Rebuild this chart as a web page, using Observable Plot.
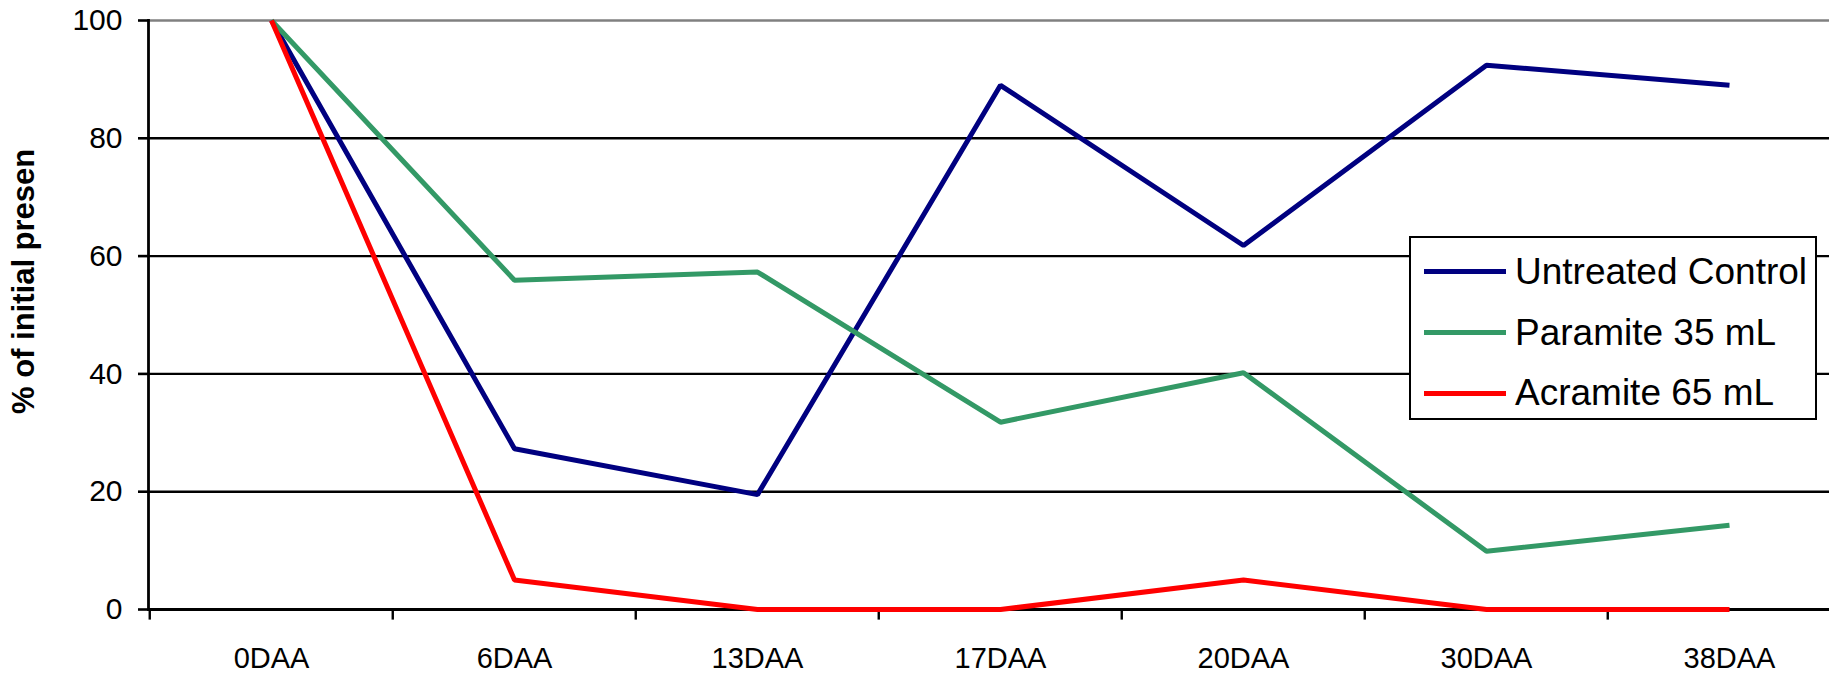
<!DOCTYPE html>
<html>
<head>
<meta charset="utf-8">
<script src="https://cdn.jsdelivr.net/npm/d3@7"></script>
<script src="https://cdn.jsdelivr.net/npm/@observablehq/plot@0.6"></script>
<style>
  html, body { margin: 0; padding: 0; background: white; overflow: hidden; }
  #wrap { position: relative; width: 1829px; height: 676px; font-family: Arial, "Liberation Sans", sans-serif; }
  #ytitle { position: absolute; left: 23px; top: 414px; transform-origin: 0 0; transform: rotate(-90deg) translateY(-50%);
            white-space: nowrap; font-size: 31px; font-weight: bold; line-height: 1; color: #000; }
  #legend { position: absolute; left: 1409px; top: 236px; width: 408px; height: 184px; box-sizing: border-box;
            border: 2px solid #000; background: #fff; }
  .row { position: absolute; left: 0; height: 0; }
  .sw { position: absolute; left: 13px; top: -2.5px; width: 82px; height: 5px; }
  .lt { position: absolute; left: 104px; top: -20px; line-height: 40px; font-size: 37px; white-space: nowrap; color: #000; }
</style>
</head>
<body>
<div id="wrap"></div>
<script>
const categories = ["0DAA", "6DAA", "13DAA", "17DAA", "20DAA", "30DAA", "38DAA"];
const untreatedControl = [100, 27.3, 19.5, 89.0, 61.8, 92.4, 89.0];
const paramite35 = [100, 55.9, 57.3, 31.8, 40.2, 9.9, 14.3];
const acramite65 = [100, 5.0, 0, 0, 5.0, 0, 0];
const seriesNames = ["Untreated Control", "Paramite 35 mL", "Acramite 65 mL"];
const seriesColors = ["#000080", "#339966", "#FF0000"];
const yTicks = [0, 20, 40, 60, 80, 100];
const yGrid = [20, 40, 60, 80];
const yTitle = "% of initial presen";

const seriesValues = [untreatedControl, paramite35, acramite65];
const data = categories.flatMap((c, i) =>
  seriesNames.map((s, k) => ({cat: c, value: seriesValues[k][i], series: s}))
);

const xRange = [148, 1852.5];
const step = (xRange[1] - xRange[0]) / categories.length;

const chart = Plot.plot({
  width: 1829,
  height: 676,
  marginLeft: 148,
  marginRight: 0,
  marginTop: 20,
  marginBottom: 67,
  style: {fontFamily: "Arial, 'Liberation Sans', sans-serif", background: "white", color: "black"},
  x: {type: "point", domain: categories, padding: 0.5, range: xRange},
  y: {domain: [0, 100]},
  color: {domain: seriesNames, range: seriesColors},
  marks: [
    Plot.ruleY(yGrid, {stroke: "black", strokeWidth: 2.4}),
    Plot.ruleY([100], {stroke: "#808080", strokeWidth: 2.6}),
    Plot.ruleX(categories, {x: d => d, y1: 0, y2: -1.8, dx: -step / 2, stroke: "black", strokeWidth: 2.4}),
    Plot.axisY({ticks: yTicks, tickSize: 10, tickPadding: 16, fontSize: 30, label: null, strokeWidth: 2.6, stroke: "black"}),
    Plot.axisX({tickSize: 0, tickPadding: 38, fontSize: 29, label: null}),
    Plot.ruleY([0], {stroke: "black", strokeWidth: 2.8}),
    Plot.frame({anchor: "left", stroke: "black", strokeWidth: 2.8}),
    Plot.line(data, {x: "cat", y: "value", z: "series", stroke: "series", strokeWidth: 5,
      strokeLinejoin: "miter", strokeLinecap: "butt"})
  ]
});

const wrap = document.getElementById("wrap");
wrap.appendChild(chart);

const t = document.createElement("div");
t.id = "ytitle";
t.textContent = yTitle;
wrap.appendChild(t);

const legend = document.createElement("div");
legend.id = "legend";
const rowCenters = [33.7, 94.7, 155.3];
seriesNames.forEach((name, k) => {
  const row = document.createElement("div");
  row.className = "row";
  row.style.top = rowCenters[k] + "px";
  const sw = document.createElement("div");
  sw.className = "sw";
  sw.style.background = seriesColors[k];
  const lt = document.createElement("div");
  lt.className = "lt";
  lt.textContent = name;
  row.appendChild(sw);
  row.appendChild(lt);
  legend.appendChild(row);
});
wrap.appendChild(legend);
</script>
</body>
</html>
